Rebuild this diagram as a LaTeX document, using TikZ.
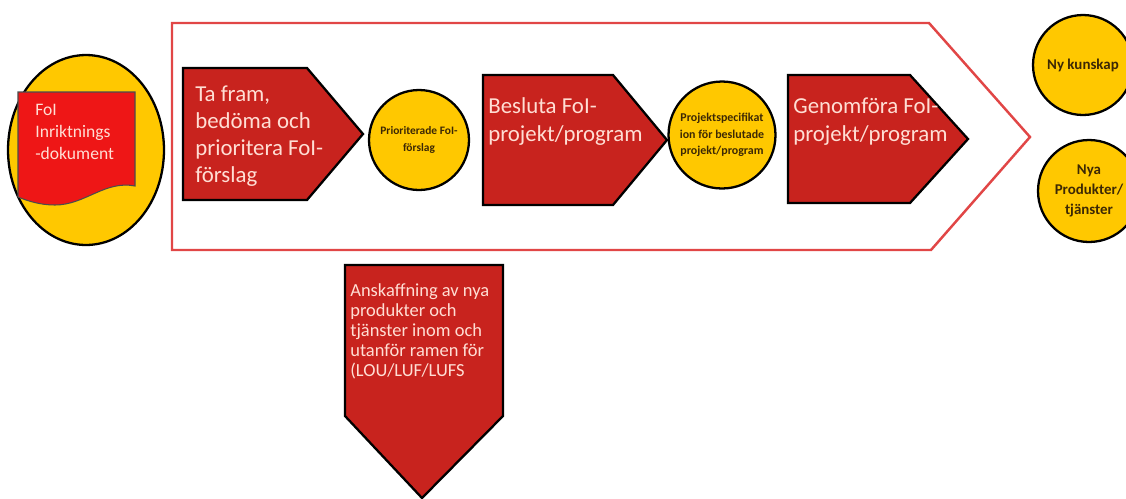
\documentclass[tikz,border=0pt]{standalone}
\usepackage{fontspec}
\setmainfont{Carlito}
\usetikzlibrary{shapes.geometric}
\definecolor{arrowred}{RGB}{200,35,30}
\definecolor{docred}{RGB}{238,22,22}
\definecolor{frameline}{RGB}{225,70,70}
\definecolor{sun}{RGB}{255,200,0}
\definecolor{paletext}{RGB}{255,222,212}
\definecolor{darktext}{RGB}{60,40,5}

\begin{document}
\begin{tikzpicture}[
  x=0.02cm, y=-0.02cm,
  step arrow/.style={fill=arrowred, draw=black, line width=1.3pt, line join=miter},
  steptext/.style={anchor=north west, inner sep=0pt, align=left, text=paletext,
                   font=\fontsize{13}{16}\selectfont},
  result/.style={circle, draw=black, line width=1.3pt, fill=sun, align=center,
                 inner sep=0pt, text=darktext, font=\bfseries\fontsize{6.5}{10}\selectfont}
]
\useasboundingbox (0,0) rectangle (1126,498);
% Process frame
\draw[frameline, line width=1.4pt, fill=white] (172,23) -- (929,23) -- (1030,137)
  -- (931,250) -- (172,250) -- cycle;
% Input: document in an ellipse
\node[ellipse, draw=black, line width=1.3pt, fill=sun, minimum width=3.12cm,
      minimum height=3.8cm] (input) at (86,150) {};
\draw[fill=docred, draw=black!70, line width=0.6pt] (18,92) -- (135,92) -- (135,186)
  .. controls (105,180) and (85,205) .. (55,205)
  .. controls (40,205) and (28,201) .. (18,197) -- cycle;
\node[steptext, font=\fontsize{10}{12.5}\selectfont] (doc) at (35,104)
  {FoI\\Inriktnings\\-dokument};
% Step 1
\draw[step arrow] (183,68) -- (307,68) -- (363,134) -- (307,200) -- (183,200) -- cycle;
\node[steptext, font=\fontsize{13}{15.4}\selectfont] (tafram) at (195,85)
  {Ta fram,\\bedöma och\\prioritera FoI-\\förslag};
\node[result, minimum size=2cm] (prio) at (419,140) {Prioriterade FoI-\\förslag};
% Step 2
\draw[step arrow] (483,75) -- (613,75) -- (667,140) -- (613,205) -- (483,205) -- cycle;
\node[steptext] (besluta) at (488,97) {Besluta FoI-\\projekt/program};
\node[result, minimum size=2.14cm, font=\bfseries\fontsize{6.8}{9.5}\selectfont]
  (spec) at (722,135) {Projektspecifikat\\ion för beslutade\\projekt/program};
% Step 3
\draw[step arrow] (788,75) -- (910,75) -- (968,139) -- (910,203) -- (788,203) -- cycle;
\node[steptext] (genomfora) at (793,97) {Genomföra FoI-\\projekt/program};
% Outcomes
\node[result, minimum size=2cm, font=\bfseries\fontsize{8.5}{11.4}\selectfont]
  (kunskap) at (1083,65) {Ny kunskap};
\node[result, minimum size=2.04cm, font=\bfseries\fontsize{8.5}{11.4}\selectfont]
  (produkter) at (1089,191) {Nya\\Produkter/\\tjänster};
% Procurement
\draw[step arrow] (345,265) -- (503,265) -- (503,416) -- (422,498) -- (345,416) -- cycle;
\node[steptext, font=\fontsize{10.5}{11.4}\selectfont] (anskaffning) at (350,283)
  {Anskaffning av nya\\produkter och\\tjänster inom och\\utanför ramen för\\(LOU/LUF/LUFS};
\end{tikzpicture}
\end{document}
